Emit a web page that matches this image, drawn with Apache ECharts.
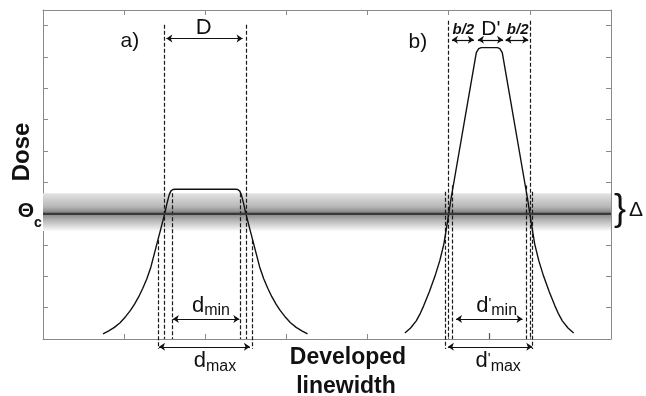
<!DOCTYPE html>
<html>
<head>
<meta charset="utf-8">
<script src="https://cdn.jsdelivr.net/npm/echarts@6/dist/echarts.min.js"></script>
<style>html,body{margin:0;padding:0;background:#fff}#c{width:646px;height:396px}</style>
</head>
<body>
<div id="c"></div>
<script>
// ---------- data ----------
const xRange = [0, 7];
const yRange = [0, 10.5];
const tickStep = 1;

// dose profile a) (developed linewidth, dose)
const curveA = [
  [0.74,0.16],[0.81,0.26],[0.88,0.37],[0.95,0.52],[1.02,0.72],[1.08,0.92],[1.13,1.12],
  [1.18,1.35],[1.23,1.62],[1.28,1.92],[1.33,2.3],[1.37,2.7],[1.41,3.1],[1.45,3.5],
  [1.50,4.0],[1.53,4.35],[1.555,4.6],[1.575,4.72],[1.60,4.77],[1.63,4.78],
  [2.37,4.78],[2.40,4.77],[2.425,4.72],[2.445,4.6],[2.47,4.35],[2.50,4.0],
  [2.55,3.5],[2.59,3.1],[2.63,2.7],[2.67,2.3],[2.72,1.92],[2.77,1.62],[2.82,1.35],
  [2.87,1.12],[2.92,0.92],[2.98,0.72],[3.05,0.52],[3.12,0.37],[3.19,0.26],[3.26,0.16]
];
// dose profile b)
const curveB = [
  [4.46,0.19],[4.53,0.35],[4.60,0.58],[4.65,0.82],[4.69,1.05],[4.76,1.5],[4.83,2.0],
  [4.89,2.5],[4.94,3.03],[4.97,3.5],[5.00,4.0],[5.03,4.5],[5.34,9.14],[5.37,9.27],
  [5.40,9.3],[5.60,9.3],[5.63,9.27],[5.66,9.14],[5.97,4.5],[6.00,4.0],[6.03,3.5],
  [6.06,3.03],[6.11,2.5],[6.17,2.0],[6.24,1.5],[6.31,1.05],[6.35,0.82],[6.40,0.58],
  [6.47,0.35],[6.54,0.19]
];

const thresholdDose = 4;          // Θc
const bandEdges = [4.65, 3.45];   // Δ band

// dashed guide lines: [x, yFrom, yTo]
const dashedLines = [
  [1.50,10.03,0],[2.50,10.03,0],      // D
  [1.59,4.65,0],[2.43,4.65,0],        // d_min
  [1.42,3.15,-0.32],[2.58,3.15,-0.32],// d_max
  [5.00,10.16,0],[6.00,10.16,0],      // D' + b
  [5.04,4.9,0],[5.95,4.9,0],          // d'_min
  [4.96,4.7,-0.32],[6.03,4.7,-0.32]   // d'_max
];

// double arrows: [xFrom, xTo, y]
const arrows = [
  [1.52,2.46,9.59],   // D
  [1.60,2.42,0.64],   // d_min
  [1.43,2.55,-0.25],  // d_max
  [5.04,5.31,9.55],   // b/2
  [5.36,5.67,9.55],   // D'
  [5.70,5.98,9.55],   // b/2
  [5.09,5.91,0.64],   // d'_min
  [4.99,6.03,-0.25]   // d'_max
];

// small centre mark under d'_min
const extraMarks = [[5.5, 0, 0.19]];

// in-plot labels (data coordinates)
const plotLabels = [
  {kind:'panel', text:'a)', x:1.07, y:9.49},
  {kind:'panel', text:'b)', x:4.62, y:9.46},
  {kind:'big',   text:'D',  x:1.98, y:9.94},
  {kind:'half',  text:'b/2', x:5.18, y:9.87},
  {kind:'mid',   text:"D'", x:5.52, y:9.90},
  {kind:'half',  text:'b/2', x:5.85, y:9.87},
  {kind:'sub',   text:'{m|d}{s|min}', x:2.07, y:1.02},
  {kind:'sub',   text:'{m|d}{s|max}', x:2.12, y:-0.74},
  {kind:'sub',   text:"{m|d}{p|'}{s|min}", x:5.59, y:1.02},
  {kind:'sub',   text:"{m|d}{p|'}{s|max}", x:5.61, y:-0.74}
];

// ---------- chart ----------
const FONT = '"Liberation Sans", Arial, Helvetica, sans-serif';
const AXIS_COLOR = '#8a8a8a';
const INK = '#111';

function axisCommon(extra) {
  return Object.assign({
    type: 'value',
    interval: tickStep,
    axisLine: {show: true, onZero: false, lineStyle: {color: AXIS_COLOR, width: 1}},
    axisTick: {show: true, inside: true, length: 5, lineStyle: {color: AXIS_COLOR}},
    axisLabel: {show: false},
    splitLine: {show: false}
  }, extra);
}

const chart = echarts.init(document.getElementById('c'), null, {renderer: 'canvas'});

const option = {
  backgroundColor: '#fff',
  animation: false,
  grid: {left: 43, right: 35, top: 10, bottom: 57},
  xAxis: [
    axisCommon({min: xRange[0], max: xRange[1], position: 'bottom'}),
    axisCommon({min: xRange[0], max: xRange[1], position: 'top'})
  ],
  yAxis: [
    axisCommon({min: yRange[0], max: yRange[1], position: 'left'}),
    axisCommon({min: yRange[0], max: yRange[1], position: 'right'})
  ],
  series: [
    {
      type: 'line', name: 'a', data: curveA, symbol: 'none',
      lineStyle: {color: INK, width: 1.4}, z: 3,
      markArea: {
        silent: true,
        itemStyle: {
          color: {type: 'linear', x: 0, y: 0, x2: 0, y2: 1, colorStops: [
            {offset: 0, color: '#e4e4e4'},
            {offset: 0.15, color: '#d0d0d0'},
            {offset: 0.35, color: '#b8b8b8'},
            {offset: 0.49, color: '#8e8e8e'},
            {offset: 0.53, color: '#555'},
            {offset: 0.57, color: '#8c8c8c'},
            {offset: 0.72, color: '#b6b6b6'},
            {offset: 0.87, color: '#dadada'},
            {offset: 1, color: '#fbfbfb'}
          ]}
        },
        data: [[{yAxis: bandEdges[0]}, {yAxis: bandEdges[1]}]]
      },
      markLine: {
        silent: true, symbol: 'none', label: {show: false},
        lineStyle: {color: '#3a3a3a', width: 2, type: 'solid'},
        data: [{yAxis: thresholdDose}]
      }
    },
    {
      type: 'line', name: 'b', data: curveB, symbol: 'none',
      lineStyle: {color: INK, width: 1.4}, z: 3
    },
    {
      type: 'lines', coordinateSystem: 'cartesian2d', clip: false, z: 2,
      symbol: ['none', 'none'],
      lineStyle: {color: '#1a1a1a', width: 1.2, type: [4, 2], opacity: 1},
      data: dashedLines.map(([x, y0, y1]) => ({coords: [[x, y0], [x, y1]]}))
    },
    {
      type: 'lines', coordinateSystem: 'cartesian2d', clip: false, z: 4,
      symbol: ['arrow', 'arrow'], symbolSize: 6,
      lineStyle: {color: INK, width: 1.2, type: 'solid', opacity: 1},
      itemStyle: {color: INK},
      data: arrows.map(([x0, x1, y]) => ({coords: [[x0, y], [x1, y]]}))
    },
    {
      type: 'lines', coordinateSystem: 'cartesian2d', clip: false, z: 4,
      symbol: ['none', 'none'],
      lineStyle: {color: '#555', width: 1.2, type: 'solid', opacity: 1},
      data: extraMarks.map(([x, y0, y1]) => ({coords: [[x, y0], [x, y1]]}))
    }
  ]
};
chart.setOption(option);

const labelStyles = {
  panel: {fontSize: 21, fontWeight: 'normal'},
  big:   {fontSize: 22, fontWeight: 'normal'},
  mid:   {fontSize: 21, fontWeight: 'normal'},
  half:  {fontSize: 15, fontWeight: 'bold', fontStyle: 'italic'},
  sub:   {fontSize: 22, fontWeight: 'normal', rich: {
    m: {fontSize: 22, fontFamily: FONT, fill: INK, verticalAlign: 'bottom', padding: [0, 0, 2, 0]},
    p: {fontSize: 15, fontFamily: FONT, fill: INK, verticalAlign: 'bottom', padding: [0, 0, 8, 0]},
    s: {fontSize: 16, fontFamily: FONT, fill: INK, verticalAlign: 'bottom'}
  }}
};

const graphics = plotLabels.map(l => {
  const p = chart.convertToPixel({xAxisIndex: 0, yAxisIndex: 0}, [l.x, l.y]);
  const st = labelStyles[l.kind];
  return {
    type: 'text', x: p[0], y: p[1], z: 10,
    style: Object.assign({
      text: l.text, fill: INK, fontFamily: FONT,
      align: 'center', verticalAlign: 'middle'
    }, st)
  };
});

// outside-plot texts
graphics.push(
  {type: 'text', x: 22, y: 152, rotation: Math.PI / 2, z: 10,
   style: {text: 'Dose', fill: INK, fontFamily: FONT, fontSize: 24, fontWeight: 'bold', align: 'center', verticalAlign: 'middle'}},
  {type: 'text', x: 26, y: 211, z: 10,
   style: {text: 'Θ', fill: INK, fontFamily: FONT, fontSize: 21, fontWeight: 'bold', align: 'center', verticalAlign: 'middle'}},
  {type: 'text', x: 38, y: 223, z: 10,
   style: {text: 'c', fill: INK, fontFamily: FONT, fontSize: 14, fontWeight: 'bold', align: 'center', verticalAlign: 'middle'}},
  {type: 'text', x: 620, y: 210, z: 10,
   style: {text: '}', fill: INK, fontFamily: FONT, fontSize: 36, fontWeight: 'normal', align: 'center', verticalAlign: 'middle'}},
  {type: 'text', x: 636, y: 210, z: 10,
   style: {text: 'Δ', fill: INK, fontFamily: FONT, fontSize: 21, fontWeight: 'normal', align: 'center', verticalAlign: 'middle'}},
  {type: 'text', x: 348, y: 358, z: 10,
   style: {text: 'Developed', fill: INK, fontFamily: FONT, fontSize: 23, fontWeight: 'bold', align: 'center', verticalAlign: 'middle'}},
  {type: 'text', x: 346, y: 387, z: 10,
   style: {text: 'linewidth', fill: INK, fontFamily: FONT, fontSize: 23, fontWeight: 'bold', align: 'center', verticalAlign: 'middle'}}
);

chart.setOption({graphic: graphics});
</script>
</body>
</html>
